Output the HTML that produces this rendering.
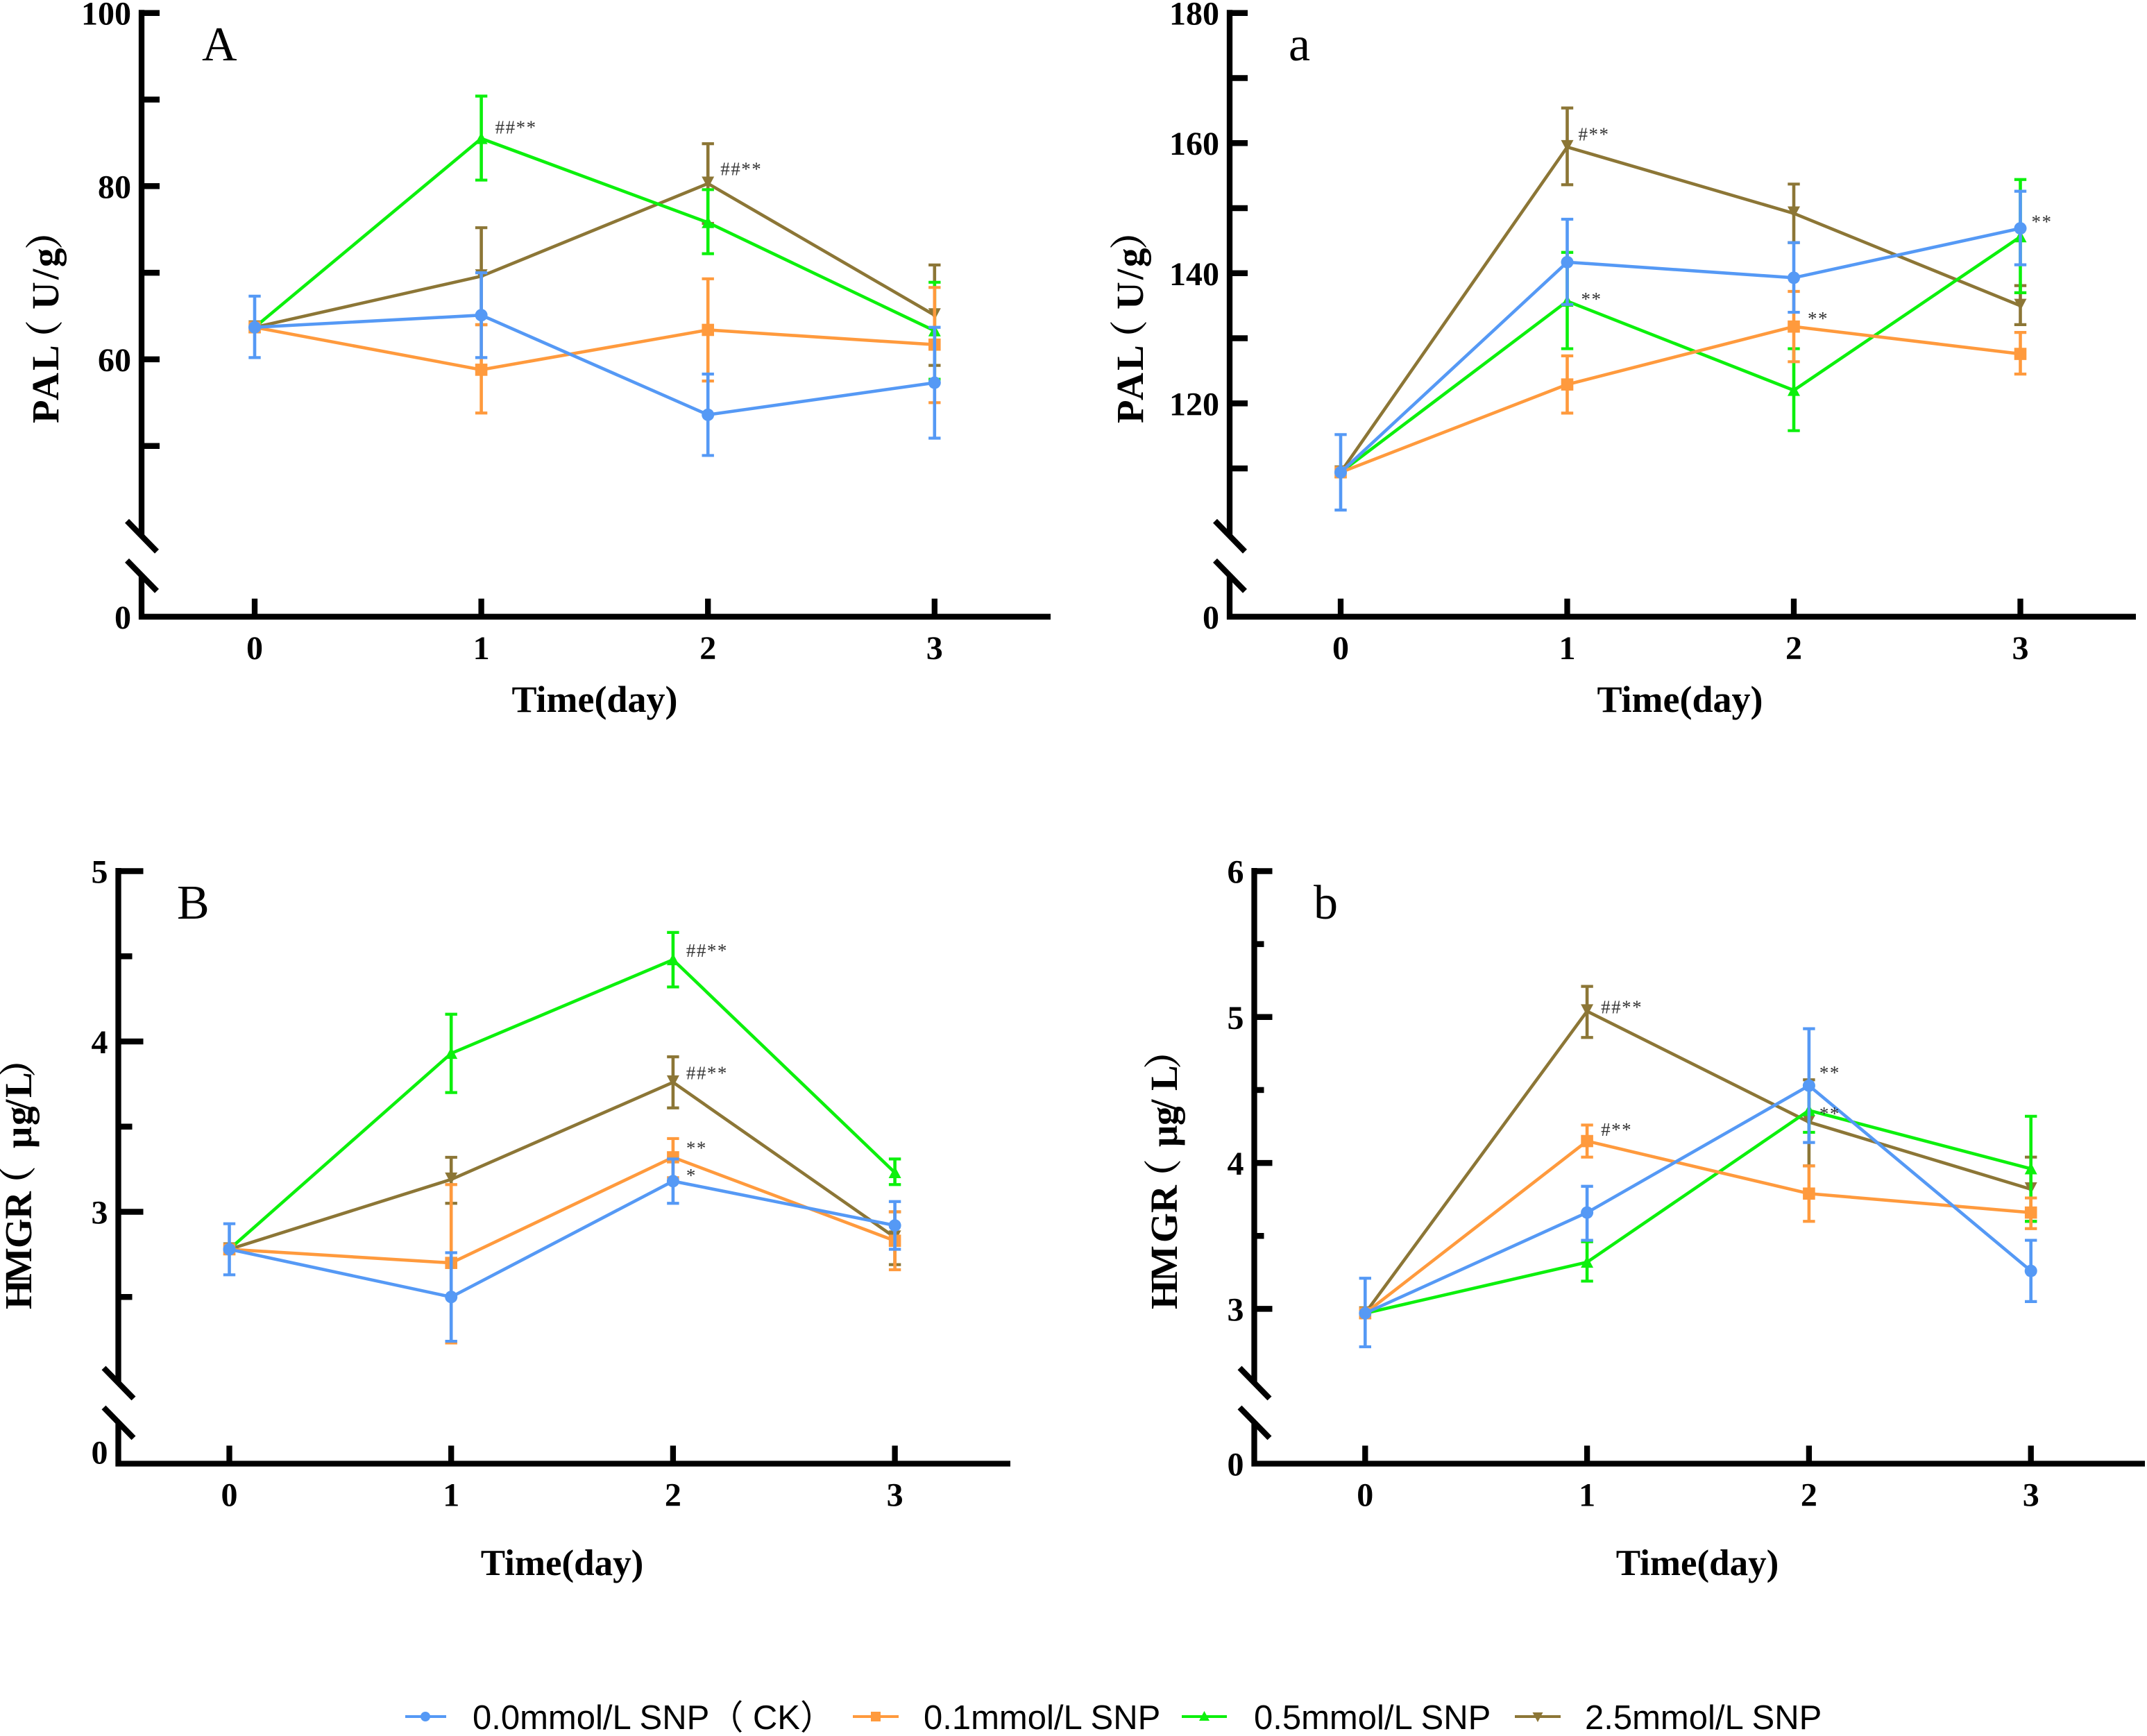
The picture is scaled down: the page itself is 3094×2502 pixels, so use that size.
<!DOCTYPE html>
<html>
<head>
<meta charset="utf-8">
<title>PAL and HMGR activity over time</title>
<style>
html,body{margin:0;padding:0;background:#fff;}
svg{display:block;}
text{font-family:"Liberation Serif","Noto Serif CJK SC",serif;}
.tick{font-weight:700;font-size:48px;fill:#000;}
.xt{font-weight:700;font-size:54px;fill:#000;}
.xt2{font-weight:700;font-size:53px;fill:#000;}
.yt{font-weight:700;font-size:55px;fill:#000;}
.pl{font-size:70px;fill:#000;}
.ann{font-size:27px;fill:#333;letter-spacing:1.5px;}
.lg{font-family:"Liberation Sans","Noto Sans CJK SC",sans-serif;font-size:49px;fill:#000;}
</style>
</head>
<body>
<svg id="chart" xmlns="http://www.w3.org/2000/svg" width="3094" height="2502" viewBox="0 0 3094 2502">
<rect width="3094" height="2502" fill="#fff"/>
<g id="panels"></g>

<text class="pl" x="291" y="87">A</text>
<text class="pl" x="1857" y="87">a</text>
<text class="pl" x="255" y="1324">B</text>
<text class="pl" x="1893" y="1324">b</text>

<text class="xt" x="857" y="1026" text-anchor="middle">Time(day)</text>
<text class="xt" x="2421" y="1026" text-anchor="middle">Time(day)</text>
<text class="xt2" x="810" y="2270" text-anchor="middle">Time(day)</text>
<text class="xt2" x="2446" y="2270" text-anchor="middle">Time(day)</text>

<text class="yt" transform="translate(84 610) rotate(-90)" x="0 33 76 94 150 164 207 225 250">PAL（ U/g）</text>
<text class="yt" transform="translate(1647 610) rotate(-90)" x="0 33 76 94 150 164 207 225 250">PAL（ U/g）</text>
<text class="yt" transform="translate(45 1887) rotate(-90)" x="0 37 88 130 152 220 232 265 287 305 334">HMGR（ μg/L）</text>
<text class="yt" transform="translate(1696 1887) rotate(-90)" x="0 40 96 139 162 220 234 265 287 315 346">HMGR（ μg/L）</text>

<g>
  <g>
    <line x1="584" y1="2474" x2="643" y2="2474" stroke="#5599f5" stroke-width="4"/>
    <circle cx="613" cy="2474" r="7" fill="#5599f5"/>
    <text class="lg" x="681" y="2492">0.0mmol/L SNP（ CK）</text>
  </g>
  <g>
    <line x1="1229" y1="2474" x2="1295" y2="2474" stroke="#ff9a3d" stroke-width="4"/>
    <rect x="1255" y="2467" width="14" height="14" fill="#ff9a3d"/>
    <text class="lg" x="1331" y="2492">0.1mmol/L SNP</text>
  </g>
  <g>
    <line x1="1703" y1="2474" x2="1768" y2="2474" stroke="#0cf00c" stroke-width="4"/>
    <polygon points="1735.5,2466 1743,2480 1728,2480" fill="#0cf00c"/>
    <text class="lg" x="1807" y="2492">0.5mmol/L SNP</text>
  </g>
  <g>
    <line x1="2183" y1="2474" x2="2249" y2="2474" stroke="#8c7636" stroke-width="4"/>
    <polygon points="2216,2482 2223.5,2468 2208.5,2468" fill="#8c7636"/>
    <text class="lg" x="2284" y="2492">2.5mmol/L SNP</text>
  </g>
</g>
</svg>

<script>
const categories = [0, 1, 2, 3];

// Panel A
const A_major = [60, 80, 100];
const A_minor = [50, 70, 90];
const A_blue = [63.7, 65.1, 53.6, 57.3];
const A_blue_hi = [67.3, 70.0, 58.3, 63.7];
const A_blue_lo = [60.2, 60.2, 48.9, 50.9];
const A_orange = [63.7, 58.8, 63.4, 61.7];
const A_orange_hi = [63.7, 64.0, 69.3, 68.3];
const A_orange_lo = [63.7, 53.8, 57.5, 55.0];
const A_green = [63.7, 85.5, 75.8, 63.3];
const A_green_hi = [63.7, 90.4, 79.6, 68.9];
const A_green_lo = [63.7, 80.7, 72.2, 57.7];
const A_brown = [63.7, 69.6, 80.3, 65.1];
const A_brown_hi = [63.7, 75.2, 84.9, 70.9];
const A_brown_lo = [63.7, 64.0, 75.7, 59.3];
const A_noteDays = [1, 2];
const A_noteValues = [86.3, 81.5];
const A_noteTexts = ['##**', '##**'];

// Panel a
const a_major = [120, 140, 160, 180];
const a_minor = [110, 130, 150, 170];
const a_blue = [109.4, 141.7, 139.3, 146.9];
const a_blue_hi = [115.2, 148.3, 144.7, 152.6];
const a_blue_lo = [103.6, 135.2, 134.0, 141.3];
const a_orange = [109.4, 122.9, 131.8, 127.6];
const a_orange_hi = [109.4, 127.3, 137.2, 130.9];
const a_orange_lo = [109.4, 118.5, 126.4, 124.5];
const a_green = [109.4, 135.7, 122.0, 145.6];
const a_green_hi = [109.4, 143.2, 128.4, 154.4];
const a_green_lo = [109.4, 128.4, 115.8, 137.0];
const a_brown = [109.4, 159.4, 149.2, 135.0];
const a_brown_hi = [109.4, 165.4, 153.7, 138.1];
const a_brown_lo = [109.4, 153.6, 144.7, 132.1];
const a_noteDays = [1, 1, 2, 3];
const a_noteValues = [160.7, 135.4, 132.4, 147.3];
const a_noteTexts = ['#**', '**', '**', '**'];

// Panel B
const B_major = [3, 4, 5];
const B_minor = [2.5, 3.5, 4.5];
const B_blue = [2.78, 2.50, 3.18, 2.92];
const B_blue_hi = [2.93, 2.76, 3.31, 3.06];
const B_blue_lo = [2.63, 2.24, 3.05, 2.78];
const B_orange = [2.78, 2.70, 3.32, 2.83];
const B_orange_hi = [2.78, 3.16, 3.43, 3.00];
const B_orange_lo = [2.78, 2.23, 3.20, 2.66];
const B_green = [2.78, 3.93, 4.48, 3.23];
const B_green_hi = [2.78, 4.16, 4.64, 3.31];
const B_green_lo = [2.78, 3.70, 4.32, 3.16];
const B_brown = [2.78, 3.19, 3.76, 2.85];
const B_brown_hi = [2.78, 3.32, 3.91, 3.00];
const B_brown_lo = [2.78, 3.05, 3.61, 2.69];
const B_noteDays = [2, 2, 2, 2];
const B_noteValues = [4.51, 3.79, 3.35, 3.19];
const B_noteTexts = ['##**', '##**', '**', '*'];

// Panel b
const b_major = [3, 4, 5, 6];
const b_minor = [3.5, 4.5, 5.5];
const b_blue = [2.97, 3.66, 4.53, 3.26];
const b_blue_hi = [3.21, 3.84, 4.92, 3.47];
const b_blue_lo = [2.74, 3.47, 4.14, 3.05];
const b_orange = [2.97, 4.15, 3.79, 3.66];
const b_orange_hi = [2.97, 4.26, 3.98, 3.76];
const b_orange_lo = [2.97, 4.04, 3.60, 3.55];
const b_green = [2.97, 3.32, 4.36, 3.96];
const b_green_hi = [2.97, 3.46, 4.53, 4.32];
const b_green_lo = [2.97, 3.19, 4.21, 3.60];
const b_brown = [2.97, 5.04, 4.28, 3.82];
const b_brown_hi = [2.97, 5.21, 4.57, 4.04];
const b_brown_lo = [2.97, 4.86, 3.98, 3.60];
const b_noteDays = [1, 1, 2, 2];
const b_noteValues = [5.04, 4.20, 4.59, 4.31];
const b_noteTexts = ['##**', '#**', '**', '**'];

const NS = 'http://www.w3.org/2000/svg';
const root = document.getElementById('panels');
const COLORS = {blue: '#5599f5', orange: '#ff9a3d', green: '#0cf00c', brown: '#8c7636'};

function mk(parent, tag, attrs, txt) {
  const el = document.createElementNS(NS, tag);
  for (const k in attrs) el.setAttribute(k, attrs[k]);
  if (txt !== undefined) el.textContent = txt;
  parent.appendChild(el);
  return el;
}

function drawPanel(p) {
  const g = mk(root, 'g', {});
  
  

  const x = d => p.x0 + d * p.dx;
  const y = v => v === 0 ? p.base : p.yRef + (p.vRef - v) * p.k;
  const yTopVal = p.major[p.major.length - 1];

  // y axis upper segment
  const axisU = mk(g, 'line', {x1: p.ax, x2: p.ax, y1: y(yTopVal) - 4.5, y2: p.base - 116, stroke: '#000', 'stroke-width': 8.3});
  
  
  // y axis lower segment
  const axisL = mk(g, 'line', {x1: p.ax, x2: p.ax, y1: p.base - 59, y2: p.base + 4, stroke: '#000', 'stroke-width': 8.3});
  
  
  // break marks
  [116, 59].forEach(off => {
    const br = mk(g, 'line', {x1: p.ax - 21, y1: p.base - off - 22, x2: p.ax + 22, y2: p.base - off + 22, stroke: '#000', 'stroke-width': 8.3});
    
    
  });
  // x axis
  const xAxis = mk(g, 'line', {x1: p.ax - 4, x2: p.xEnd, y1: p.base, y2: p.base, stroke: '#000', 'stroke-width': 8.3});
  
  

  // x ticks + labels
  categories.forEach(c => {
    const t = mk(g, 'line', {x1: x(c), x2: x(c), y1: p.base, y2: p.base - 26, stroke: '#000', 'stroke-width': 8.3});
    
    
    const l = mk(g, 'text', {class: 'tick', x: x(c), y: p.base + 61, 'text-anchor': 'middle'}, String(c));
    
    
  });

  // y ticks
  p.major.forEach(v => {
    const t = mk(g, 'line', {x1: p.ax, x2: p.ax + p.majLen, y1: y(v), y2: y(v), stroke: '#000', 'stroke-width': 8.5});
    
    
    const l = mk(g, 'text', {class: 'tick', x: p.ax - 15, y: y(v) + 17, 'text-anchor': 'end'}, String(v));
    
    
  });
  p.minor.forEach(v => {
    const t = mk(g, 'line', {x1: p.ax, x2: p.ax + p.minLen, y1: y(v), y2: y(v), stroke: '#000', 'stroke-width': 8.5});
    
    
  });
  const zero = mk(g, 'text', {class: 'tick', x: p.ax - 15, y: p.base + p.zeroDy, 'text-anchor': 'end'}, '0');
  
  

  // series, back to front
  p.series.forEach(s => {
    const sg = mk(g, 'g', {});
    
    
    const col = COLORS[s.name];
    const pts = s.v.map((v, i) => x(categories[i]) + ',' + y(v)).join(' ');
    const ln = mk(sg, 'polyline', {points: pts, fill: 'none', stroke: col, 'stroke-width': 4.6, 'stroke-linejoin': 'miter'});
    
    
    s.v.forEach((v, i) => {
      const px = x(categories[i]);
      const yh = y(s.hi[i]);
      const yl = y(s.lo[i]);
      if (s.hi[i] !== s.lo[i]) {
        const eb = mk(sg, 'line', {x1: px, x2: px, y1: yh, y2: yl, stroke: col, 'stroke-width': 4.6});
        
        
        const c1 = mk(sg, 'line', {x1: px - 8.7, x2: px + 8.7, y1: yh, y2: yh, stroke: col, 'stroke-width': 4.2});
        
        
        const c2 = mk(sg, 'line', {x1: px - 8.7, x2: px + 8.7, y1: yl, y2: yl, stroke: col, 'stroke-width': 4.2});
        
        
      }
      const py = y(v);
      let m;
      if (s.name === 'blue') {
        m = mk(sg, 'circle', {cx: px, cy: py, r: 9, fill: col});
      } else if (s.name === 'orange') {
        m = mk(sg, 'rect', {x: px - 8.8, y: py - 8.8, width: 17.6, height: 17.6, fill: col});
      } else if (s.name === 'green') {
        m = mk(sg, 'polygon', {points: `${px},${py - 9} ${px + 9},${py + 8} ${px - 9},${py + 8}`, fill: col});
      } else {
        m = mk(sg, 'polygon', {points: `${px},${py + 7} ${px + 9},${py - 10} ${px - 9},${py - 10}`, fill: col});
      }
      
      
    });
  });

  // significance notes
  p.noteDays.forEach((d, i) => {
    const a = mk(g, 'text', {class: 'ann', x: x(d) + p.noteDx[i], y: y(p.noteValues[i]) + 3}, p.noteTexts[i]);
    
    
  });
}

drawPanel({id: 'A', ax: 204, x0: 367, dx: 326.6, base: 888.8, xEnd: 1514, yRef: 18.7, vRef: 100, k: 12.48,
  majLen: 26, minLen: 26, zeroDy: 17, major: A_major, minor: A_minor, noteDx: [20, 18],
  noteDays: A_noteDays, noteValues: A_noteValues, noteTexts: A_noteTexts,
  series: [
    {name: 'brown', v: A_brown, hi: A_brown_hi, lo: A_brown_lo},
    {name: 'green', v: A_green, hi: A_green_hi, lo: A_green_lo},
    {name: 'orange', v: A_orange, hi: A_orange_hi, lo: A_orange_lo},
    {name: 'blue', v: A_blue, hi: A_blue_hi, lo: A_blue_lo}
  ]});
drawPanel({id: 'a', ax: 1772, x0: 1932, dx: 326.5, base: 888.8, xEnd: 3078, yRef: 18.7, vRef: 180, k: 9.377,
  majLen: 26, minLen: 26, zeroDy: 17, major: a_major, minor: a_minor, noteDx: [16, 20, 20, 16],
  noteDays: a_noteDays, noteValues: a_noteValues, noteTexts: a_noteTexts,
  series: [
    {name: 'brown', v: a_brown, hi: a_brown_hi, lo: a_brown_lo},
    {name: 'green', v: a_green, hi: a_green_hi, lo: a_green_lo},
    {name: 'orange', v: a_orange, hi: a_orange_hi, lo: a_orange_lo},
    {name: 'blue', v: a_blue, hi: a_blue_hi, lo: a_blue_lo}
  ]});
drawPanel({id: 'B', ax: 170.5, x0: 330.5, dx: 319.7, base: 2109.5, xEnd: 1456, yRef: 1255.5, vRef: 5, k: 245.5,
  majLen: 36, minLen: 20, zeroDy: 0, major: B_major, minor: B_minor, noteDx: [19, 19, 19, 19],
  noteDays: B_noteDays, noteValues: B_noteValues, noteTexts: B_noteTexts,
  series: [
    {name: 'brown', v: B_brown, hi: B_brown_hi, lo: B_brown_lo},
    {name: 'green', v: B_green, hi: B_green_hi, lo: B_green_lo},
    {name: 'orange', v: B_orange, hi: B_orange_hi, lo: B_orange_lo},
    {name: 'blue', v: B_blue, hi: B_blue_hi, lo: B_blue_lo}
  ]});
drawPanel({id: 'b', ax: 1807.5, x0: 1967.3, dx: 319.8, base: 2109.5, xEnd: 3091, yRef: 1255.5, vRef: 6, k: 210.3,
  majLen: 26, minLen: 14, zeroDy: 17, major: b_major, minor: b_minor, noteDx: [20, 20, 15, 15],
  noteDays: b_noteDays, noteValues: b_noteValues, noteTexts: b_noteTexts,
  series: [
    {name: 'brown', v: b_brown, hi: b_brown_hi, lo: b_brown_lo},
    {name: 'green', v: b_green, hi: b_green_hi, lo: b_green_lo},
    {name: 'orange', v: b_orange, hi: b_orange_hi, lo: b_orange_lo},
    {name: 'blue', v: b_blue, hi: b_blue_hi, lo: b_blue_lo}
  ]});
</script>
</body>
</html>
